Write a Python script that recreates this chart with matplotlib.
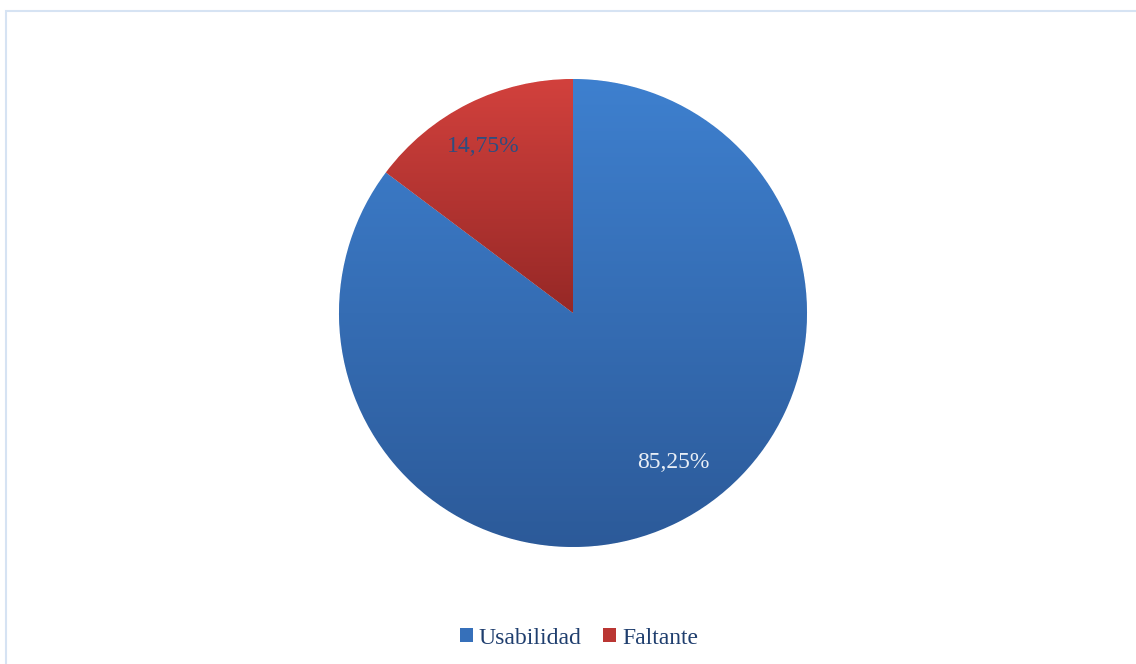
import numpy as np
import matplotlib.pyplot as plt
from matplotlib.colors import LinearSegmentedColormap
from matplotlib.patches import Rectangle

labels = ['Usabilidad', 'Faltante']
values = [85.25, 14.75]
value_text = ['85,25%', '14,75%']

colors = ['#3670BA', '#BA3633']
grad_top = ['#3E80CF', '#D2413D']
grad_bottom = ['#2C5A99', '#962826']
label_colors = ['#E8EEF6', '#2E4D80']

plt.rcParams['font.family'] = ['Liberation Serif', 'DejaVu Serif']


def main():
    fig = plt.figure(figsize=(11.36, 6.64), dpi=100)
    fig.patches.append(Rectangle((6 / 1136, -0.1), 1.2, (664 - 11) / 664 + 0.1,
                                 transform=fig.transFigure, fill=False,
                                 edgecolor='#D6E3F3', linewidth=1.5))

    ax = fig.add_axes([0, 0, 1, 1])
    center = (573, 351)
    radius = 234
    wedges, _ = ax.pie(values, colors=colors, startangle=90, counterclock=False,
                       center=center, radius=radius, frame=True,
                       wedgeprops=dict(edgecolor='white', linewidth=0.6))
    ax.set_xlim(0, 1136)
    ax.set_ylim(0, 664)
    ax.set_aspect('equal')
    ax.axis('off')

    # vertical gradient inside each slice
    for w, top, bot in zip(wedges, grad_top, grad_bottom):
        verts = w.get_path().vertices
        y0, y1 = verts[:, 1].min(), verts[:, 1].max()
        x0, x1 = verts[:, 0].min(), verts[:, 0].max()
        cmap = LinearSegmentedColormap.from_list('g', [bot, top])
        grad = np.linspace(0, 1, 256).reshape(-1, 1)
        im = ax.imshow(grad, cmap=cmap, extent=(x0, x1, y0, y1), origin='lower',
                       aspect='auto', zorder=w.get_zorder() + 0.1)
        im.set_clip_path(w)

    # value labels
    label_pos = [(673, 664 - 462), (483, 664 - 147)]
    for txt, pos, c in zip(value_text, label_pos, label_colors):
        ax.text(pos[0], pos[1], txt, ha='center', va='center', fontsize=17,
                color=c, zorder=10)

    leg = ax.legend(wedges, labels, loc='center', bbox_to_anchor=(579 / 1136, 26 / 664),
                    ncol=2, frameon=False, fontsize=17, handlelength=0.55,
                    handleheight=0.55, handletextpad=0.25, columnspacing=0.9)
    for t in leg.get_texts():
        t.set_color('#1F3E6E')
    for h in leg.legend_handles:
        h.set_edgecolor('none')

    fig.savefig('out.png', dpi=100)


if __name__ == '__main__':
    main()
